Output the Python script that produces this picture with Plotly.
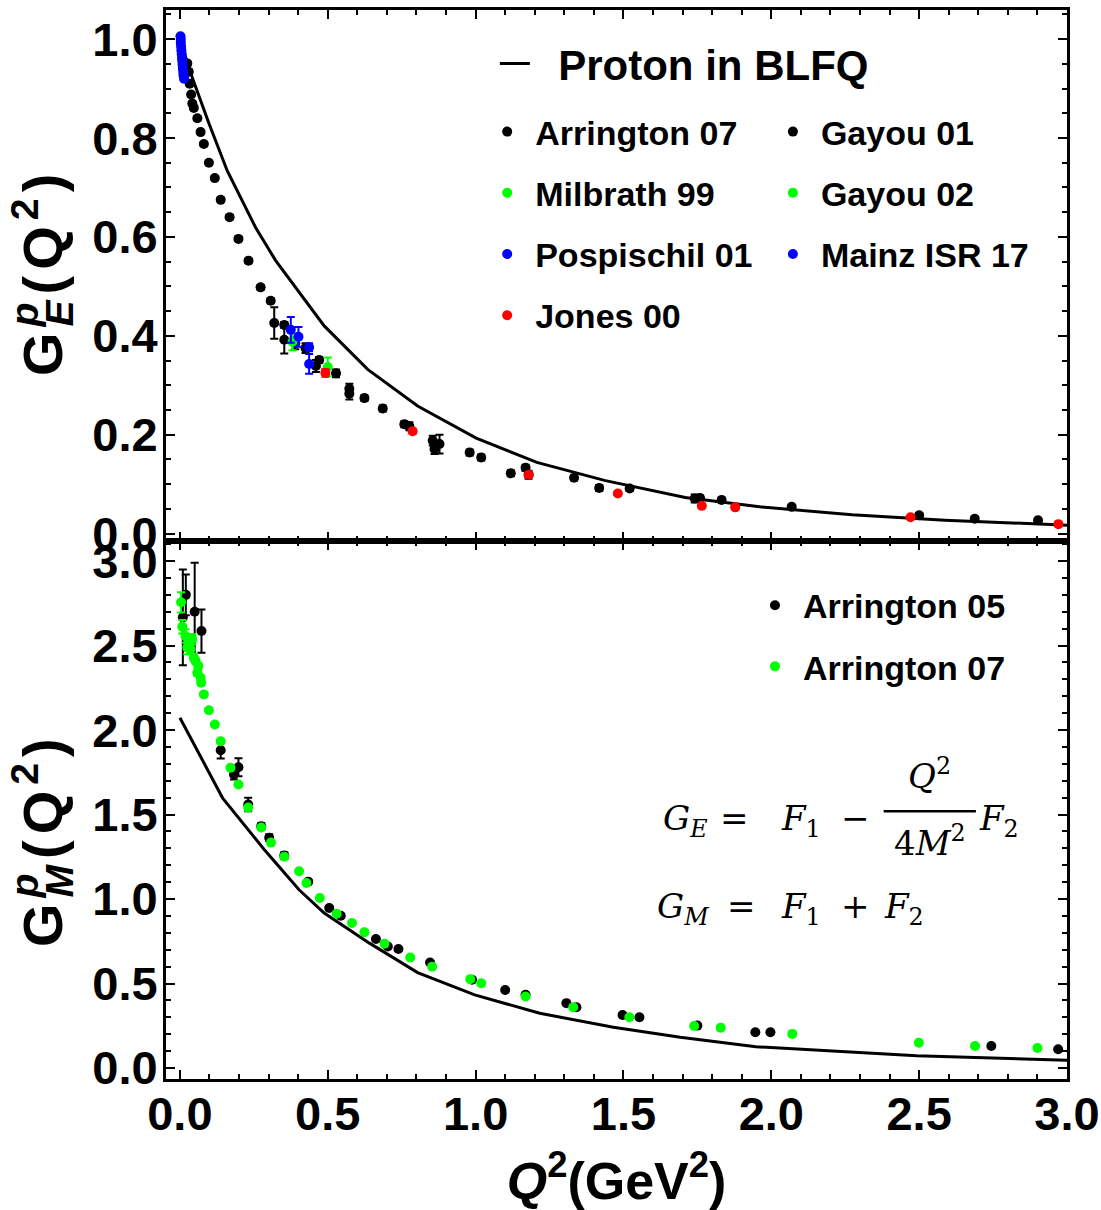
import plotly.graph_objects as go

# ---------------- data: proton electric form factor G_E^p(Q^2) ----------------
# BLFQ model curve
q_blfq_E = [0.0, 0.042, 0.098, 0.160, 0.256, 0.324, 0.488, 0.635, 0.804, 1.002,
            1.207, 1.439, 1.709, 1.960, 2.273, 2.587, 2.964, 3.0]
g_blfq_E = [1.0, 0.922, 0.830, 0.734, 0.619, 0.552, 0.420, 0.332, 0.258, 0.193,
            0.144, 0.107, 0.073, 0.054, 0.038, 0.027, 0.018, 0.017]

q_arr07_E = [0.025, 0.030, 0.033, 0.038, 0.042, 0.047, 0.059, 0.070, 0.081, 0.098,
             0.118, 0.138, 0.168, 0.198, 0.232, 0.273, 0.307, 0.353, 0.471, 0.573,
             0.624, 0.686, 0.759, 0.980, 1.019, 1.169, 1.333, 1.521, 1.759, 1.832,
             2.069, 2.500, 2.688, 2.902]
g_arr07_E = [0.951, 0.934, 0.910, 0.888, 0.870, 0.861, 0.840, 0.812, 0.788, 0.750,
             0.719, 0.675, 0.640, 0.596, 0.552, 0.498, 0.471, 0.422, 0.351, 0.293,
             0.274, 0.253, 0.221, 0.164, 0.154, 0.133, 0.113, 0.091, 0.072, 0.068,
             0.054, 0.037, 0.030, 0.027]
e_arr07_E = [0.004, 0.004, 0.004, 0.004, 0.004, 0.004, 0.004, 0.004, 0.004, 0.004,
             0.004, 0.004, 0.004, 0.004, 0.004, 0.005, 0.005, 0.006, 0.006, 0.010,
             0.006, 0.006, 0.006, 0.006, 0.006, 0.006, 0.005, 0.005, 0.005, 0.005,
             0.004, 0.004, 0.004, 0.004]

q_gay01 = [0.319, 0.353, 0.390, 0.425, 0.460, 0.528, 0.573, 0.776, 0.855, 0.861,
           0.878, 1.119, 1.179, 1.418, 1.741]
g_gay01 = [0.426, 0.392, 0.385, 0.375, 0.339, 0.324, 0.283, 0.217, 0.188, 0.171,
           0.181, 0.122, 0.119, 0.092, 0.071]
e_gay01 = [0.032, 0.028, 0.012, 0.010, 0.012, 0.008, 0.012, 0.008, 0.010, 0.010,
           0.019, 0.006, 0.008, 0.006, 0.008]

q_mil99 = [0.381, 0.500]
g_mil99 = [0.388, 0.337]
e_mil99 = [0.017, 0.019]

# Gayou 02 lies above Q^2 = 3 GeV^2, outside the plotted window
q_gay02 = [None]
g_gay02 = [None]

q_pos01 = [0.375, 0.401, 0.437, 0.437]
g_pos01 = [0.412, 0.398, 0.377, 0.343]
e_pos01 = [0.026, 0.020, 0.008, 0.020]

q_isr17 = [0.002, 0.003, 0.003, 0.004, 0.005, 0.006, 0.007, 0.008, 0.009, 0.010,
           0.011, 0.012, 0.013, 0.014]
g_isr17 = [1.006, 0.999, 0.992, 0.985, 0.977, 0.970, 0.962, 0.956, 0.949, 0.942,
           0.936, 0.929, 0.925, 0.920]

q_jon00 = [0.492, 0.787, 1.180, 1.481, 1.765, 1.878, 2.471, 2.971]
g_jon00 = [0.325, 0.207, 0.119, 0.081, 0.056, 0.053, 0.033, 0.019]
e_jon00 = [0.008, 0.005, 0.005, 0.004, 0.004, 0.004, 0.003, 0.003]

# ---------------- data: proton magnetic form factor G_M^p(Q^2) ----------------
q_blfq_M = [0.0, 0.144, 0.285, 0.403, 0.488, 0.641, 0.804, 0.997, 1.217, 1.466,
            1.692, 1.948, 2.491, 2.990, 3.0]
g_blfq_M = [2.073, 1.599, 1.293, 1.055, 0.917, 0.739, 0.565, 0.433, 0.324, 0.241,
            0.182, 0.126, 0.073, 0.047, 0.046]

q_arr05_M = [0.010, 0.020, 0.050, 0.073, 0.138, 0.183, 0.198, 0.231, 0.275, 0.302,
             0.353, 0.434, 0.505, 0.544, 0.663, 0.703, 0.739, 0.846, 0.988, 1.100,
             1.169, 1.307, 1.341, 1.497, 1.554, 1.750, 1.946, 1.997, 2.744, 2.970]
g_arr05_M = [2.667, 2.800, 2.700, 2.586, 1.881, 1.737, 1.780, 1.559, 1.430, 1.363,
             1.257, 1.103, 0.947, 0.901, 0.763, 0.719, 0.704, 0.624, 0.522, 0.462,
             0.433, 0.384, 0.360, 0.314, 0.300, 0.251, 0.212, 0.212, 0.130, 0.111]
e_arr05_M = [0.283, 0.120, 0.290, 0.128, 0.050, 0.030, 0.053, 0.040, 0.020, 0.020,
             0.020, 0.010, 0.010, 0.010, 0.010, 0.010, 0.010, 0.008, 0.008, 0.006,
             0.006, 0.006, 0.006, 0.005, 0.005, 0.005, 0.004, 0.004, 0.003, 0.003]

q_arr07_M = [0.004, 0.008, 0.019, 0.025, 0.031, 0.036, 0.042, 0.047, 0.053, 0.059,
             0.062, 0.070, 0.072, 0.081, 0.098, 0.118, 0.138, 0.171, 0.198, 0.231,
             0.275, 0.308, 0.353, 0.403, 0.428, 0.473, 0.530, 0.582, 0.624, 0.692,
             0.779, 0.853, 0.982, 1.019, 1.169, 1.330, 1.520, 1.739, 1.829, 2.071,
             2.499, 2.689, 2.900]
g_arr07_M = [2.756, 2.612, 2.557, 2.488, 2.537, 2.478, 2.537, 2.429, 2.409, 2.340,
             2.379, 2.310, 2.280, 2.211, 2.117, 2.033, 1.934, 1.777, 1.678, 1.541,
             1.423, 1.334, 1.250, 1.164, 1.095, 1.006, 0.913, 0.858, 0.804, 0.735,
             0.654, 0.600, 0.526, 0.502, 0.423, 0.360, 0.300, 0.249, 0.239, 0.202,
             0.150, 0.130, 0.119]
e_arr07_M = [0.060, 0.040, 0.040, 0.040, 0.030, 0.030, 0.030, 0.020, 0.020, 0.020,
             0.020, 0.015, 0.015, 0.010, 0.010, 0.010, 0.010, 0.010, 0.010, 0.010,
             0.008, 0.008, 0.008, 0.006, 0.006, 0.006, 0.006, 0.005, 0.005, 0.005,
             0.005, 0.004, 0.004, 0.004, 0.004, 0.003, 0.003, 0.003, 0.003, 0.003,
             0.002, 0.002, 0.002]

x_ticks = [0.0, 0.5, 1.0, 1.5, 2.0, 2.5, 3.0]
yE_ticks = [0.0, 0.2, 0.4, 0.6, 0.8, 1.0]
yM_ticks = [0.0, 0.5, 1.0, 1.5, 2.0, 2.5, 3.0]

# ---------------- styling ----------------
BLACK = "#000000"
GREEN = "#00ff00"
BLUE = "#0000ff"
RED = "#ff0000"
SANS = "Liberation Sans, Arial, sans-serif"
SERIF = "DejaVu Serif, Liberation Serif, serif"
MS = 10

fig = go.Figure()


def points(q, g, err, color, name, xa, ya, legend, rank):
    err_cfg = dict(type="data", array=err, color=color, thickness=2, width=4,
                   visible=True) if err is not None else None
    fig.add_trace(go.Scatter(
        x=q, y=g, mode="markers", name=name, xaxis=xa, yaxis=ya,
        marker=dict(color=color, size=MS, line=dict(width=0)),
        error_y=err_cfg, legend=legend, legendgroup=name + legend,
        legendrank=rank, cliponaxis=True))


# top panel: G_E
fig.add_trace(go.Scatter(
    x=q_blfq_E, y=g_blfq_E, mode="lines", name="\u00a0\u00a0Proton in BLFQ",
    line=dict(color=BLACK, width=3), xaxis="x", yaxis="y", legend="legend"))
points(q_arr07_E, g_arr07_E, e_arr07_E, BLACK, "Arrington 07", "x", "y", "legend2", 1)
points(q_gay01, g_gay01, e_gay01, BLACK, "Gayou 01", "x", "y", "legend3", 1)
points(q_mil99, g_mil99, e_mil99, GREEN, "Milbrath 99", "x", "y", "legend2", 2)
points(q_gay02, g_gay02, None, GREEN, "Gayou 02", "x", "y", "legend3", 2)
points(q_pos01, g_pos01, e_pos01, BLUE, "Pospischil 01", "x", "y", "legend2", 3)
points(q_isr17, g_isr17, None, BLUE, "Mainz ISR 17", "x", "y", "legend3", 3)
points(q_jon00, g_jon00, e_jon00, RED, "Jones 00", "x", "y", "legend2", 4)

# bottom panel: G_M
fig.add_trace(go.Scatter(
    x=q_blfq_M, y=g_blfq_M, mode="lines", name="BLFQ G_M", showlegend=False,
    line=dict(color=BLACK, width=3), xaxis="x2", yaxis="y2"))
points(q_arr05_M, g_arr05_M, e_arr05_M, BLACK, "Arrington 05", "x2", "y2", "legend4", 1)
points(q_arr07_M, g_arr07_M, e_arr07_M, GREEN, "Arrington 07", "x2", "y2", "legend4", 2)

# ---------------- axes ----------------
tick_font = dict(family=SANS, size=47, color=BLACK, weight="bold")
frame = dict(showline=True, linecolor=BLACK, linewidth=3, mirror="allticks",
             ticks="inside", ticklen=9, tickwidth=2, tickcolor=BLACK,
             showgrid=False, zeroline=False, tickfont=tick_font, automargin=False)


def minor(step):
    return dict(ticks="inside", dtick=step, tick0=0, ticklen=5,
                tickwidth=1.5, tickcolor=BLACK, showgrid=False)


SPLIT = 0.5033
fig.update_layout(
    xaxis=dict(frame, domain=[0, 1], anchor="y", matches="x2", range=[-0.047, 3.0],
               tickvals=x_ticks, showticklabels=False, minor=minor(0.1)),
    yaxis=dict(frame, domain=[SPLIT, 1], anchor="x", range=[-0.015, 1.059],
               tickvals=yE_ticks, tickformat=".1f", ticklabelstandoff=-4,
               minor=minor(0.05)),
    xaxis2=dict(frame, domain=[0, 1], anchor="y2", range=[-0.047, 3.0],
                tickvals=x_ticks, tickformat=".1f", ticklabelstandoff=-8,
                minor=minor(0.1),
                title=dict(text="<i>Q</i><sup>2</sup>(GeV<sup>2</sup>)",
                           font=dict(family=SANS, size=52, color=BLACK, weight="bold"),
                           standoff=30)),
    yaxis2=dict(frame, domain=[0, SPLIT], anchor="x2", range=[-0.065, 3.119],
                tickvals=yM_ticks, tickformat=".1f", ticklabelstandoff=-4,
                minor=minor(0.1)),
)

# vertical axis titles, with the superscript p stacked over the subscript
TITLE_SIZE = 56
title_font = dict(family=SANS, size=TITLE_SIZE, color=BLACK, weight="bold")
P_SUP = "<sup><span style='font-style:italic;letter-spacing:-24px'>p</span></sup>"
for sub, ypos in (("E", 0.755), ("M", 0.2236)):
    fig.add_annotation(xref="paper", yref="paper", x=-0.1375, y=ypos,
                       xanchor="center", yanchor="middle", textangle=-90,
                       showarrow=False, font=title_font, borderpad=0,
                       text="<span style='letter-spacing:6px'>G" + P_SUP
                            + "<sub><i>" + sub + "</i></sub>(Q<sup>2</sup>)</span>")

# ---------------- legends ----------------
leg_common = dict(bgcolor="rgba(0,0,0,0)", borderwidth=0, xanchor="left",
                  yanchor="top", traceorder="grouped", tracegroupgap=14,
                  itemclick=False, itemdoubleclick=False)
leg_font = dict(family=SANS, size=34, color=BLACK, weight="bold")
fig.update_layout(
    legend=dict(leg_common, x=0.365, y=0.9815, itemwidth=30,
                font=dict(family=SANS, size=42, color=BLACK, weight="bold")),
    legend2=dict(leg_common, x=0.3476, y=0.913, itemwidth=46, font=leg_font),
    legend3=dict(leg_common, x=0.6647, y=0.913, itemwidth=46, font=leg_font),
    legend4=dict(leg_common, x=0.6448, y=0.470, itemwidth=46, font=leg_font),
)

# ---------------- form factor relations ----------------
# each token is placed on its own so the spacing follows the typeset formula
eq_font = dict(family=SERIF, size=34, color=BLACK)
line1_top, line2_top = 1.612, 1.090
eq_tokens = [
    ("<i>G</i><sub><i>E</i></sub>", 1.628, line1_top, "left", "top"),
    ("=", 1.821, line1_top, "left", "top"),
    ("<i>F</i><sub>1</sub>", 2.025, line1_top, "left", "top"),
    ("\u2212", 2.228, line1_top, "left", "top"),
    ("<i>Q</i><sup>2</sup>", 2.536, 1.600, "center", "bottom"),
    ("4<i>M</i><sup>2</sup>", 2.536, 1.203, "center", "bottom"),
    ("<i>F</i><sub>2</sub>", 2.696, line1_top, "left", "top"),
    ("<i>G</i><sub><i>M</i></sub>", 1.608, line2_top, "left", "top"),
    ("=", 1.845, line2_top, "left", "top"),
    ("<i>F</i><sub>1</sub>", 2.025, line2_top, "left", "top"),
    ("+", 2.228, line2_top, "left", "top"),
    ("<i>F</i><sub>2</sub>", 2.374, line2_top, "left", "top"),
]
for text, x, y, xa, ya in eq_tokens:
    fig.add_annotation(xref="x2", yref="y2", x=x, y=y, text=text, xanchor=xa,
                       yanchor=ya, showarrow=False, font=eq_font)
fig.add_shape(type="line", xref="x2", yref="y2", x0=2.380, x1=2.692, y0=1.519, y1=1.519,
              line=dict(color=BLACK, width=2.5))

fig.update_layout(
    width=1101, height=1210, autosize=False,
    margin=dict(l=166, r=34, t=10, b=131),
    paper_bgcolor="white", plot_bgcolor="white",
    font=dict(family=SANS, color=BLACK),
)

fig.write_html("out.html")
